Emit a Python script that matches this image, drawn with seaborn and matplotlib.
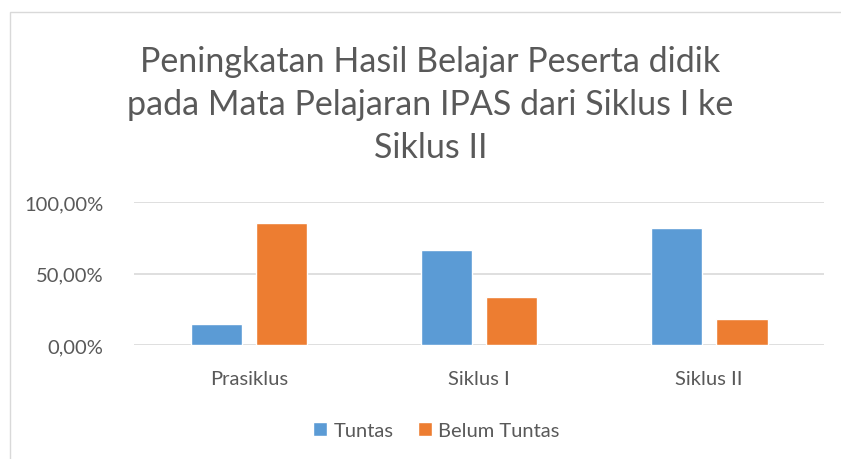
import pandas as pd
import matplotlib.pyplot as plt
import seaborn as sns
from matplotlib.patches import Rectangle
from matplotlib.ticker import FuncFormatter

# Data
siklus = ['Prasiklus', 'Siklus I', 'Siklus II']
tuntas = [0.1481, 0.6667, 0.8148]
belum_tuntas = [0.8519, 0.3333, 0.1852]
series = ['Tuntas', 'Belum Tuntas']

df = pd.DataFrame({
    'Siklus': siklus * 2,
    'Status': [series[0]] * 3 + [series[1]] * 3,
    'Nilai': tuntas + belum_tuntas,
})

sns.set_style('white')
plt.rcParams['font.family'] = ['Lato', 'DejaVu Sans']
grey = '#595959'

fig = plt.figure(figsize=(8.41, 4.6), dpi=100)
ax = fig.add_axes([0.1593, 0.2478, 0.8207, 0.3109])

sns.barplot(data=df, x='Siklus', y='Nilai', hue='Status',
            palette=['#5B9BD5', '#ED7D31'], width=0.57, gap=0.22,
            saturation=1, ax=ax, legend=True)

ax.set_xlim(-0.5, 2.5)
ax.set_ylim(0, 1)
ax.set_yticks([0, 0.5, 1])
ax.yaxis.set_major_formatter(FuncFormatter(lambda v, p: f'{v*100:.2f}%'.replace('.', ',')))
ax.grid(axis='y', color='#d9d9d9', linewidth=1.2)
ax.set_axisbelow(True)
for s in ax.spines.values():
    s.set_visible(False)
ax.set_xlabel('')
ax.set_ylabel('')
ax.tick_params(axis='both', length=0, colors=grey, labelsize=14.5)
ax.tick_params(axis='y', pad=22)
ax.tick_params(axis='x', pad=18)

leg = ax.legend(loc='center', bbox_to_anchor=(0.438, -0.6), ncol=2, frameon=False,
                handlelength=0.7, handleheight=0.7, handletextpad=0.3,
                columnspacing=1.2, fontsize=14.5)
for t in leg.get_texts():
    t.set_color(grey)

fig.text(0.512, 0.772, 'Peningkatan Hasil Belajar Peserta didik\npada Mata Pelajaran IPAS dari Siklus I ke\nSiklus II',
         ha='center', va='center', fontsize=24.5, color=grey, linespacing=1.42)

fig.patches.append(Rectangle((10 / 841, -0.1), 1.2, 1 - 13 / 460 + 0.1, transform=fig.transFigure,
                             fill=False, edgecolor='#d9d9d9', linewidth=1))

fig.savefig('out.png', dpi=100, facecolor='white')
